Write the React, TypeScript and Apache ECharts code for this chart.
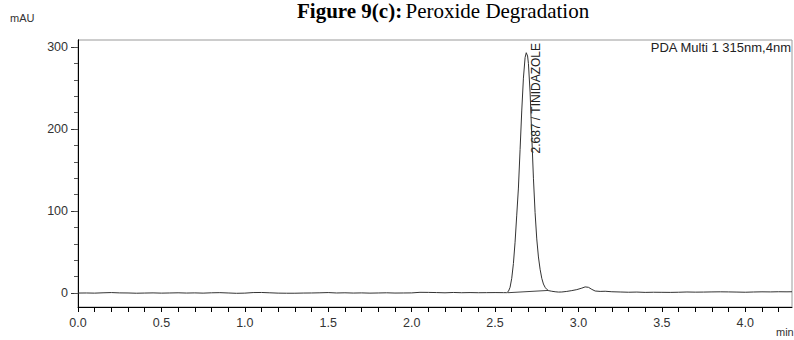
import React, { useEffect, useRef } from "react";
import * as echarts from "echarts";

// Chromatogram trace: [time (min), absorbance (mAU)]
const baselineBefore: [number, number][] = [
  [0.0, 0.0], [0.05, 0.1], [0.1, -0.1], [0.15, 0.3], [0.2, 0.6], [0.25, 0.2], [0.3, 0.1],
  [0.35, -0.2], [0.4, 0.0], [0.45, 0.2], [0.5, -0.1], [0.55, 0.1], [0.6, 0.3], [0.65, 0.0],
  [0.7, 0.2], [0.75, -0.1], [0.8, 0.3], [0.85, 0.5], [0.9, 0.1], [0.95, -0.3], [1.0, -0.1],
  [1.05, 0.6], [1.1, 0.7], [1.15, 0.3], [1.2, -0.1], [1.25, -0.2], [1.3, -0.2], [1.35, 0.0],
  [1.4, 0.1], [1.45, 0.3], [1.5, 0.6], [1.55, 0.1], [1.6, 0.3], [1.65, 0.0], [1.7, 0.2],
  [1.75, -0.1], [1.8, 0.1], [1.85, 0.3], [1.9, 0.0], [1.95, 0.1], [2.0, 0.2], [2.05, 0.9],
  [2.1, 0.8], [2.15, 0.6], [2.2, 0.3], [2.25, 0.7], [2.3, 0.4], [2.35, 0.6], [2.4, 0.4],
  [2.45, 0.5], [2.5, 0.6], [2.55, 0.5],
];
const peakTrace: [number, number][] = [
  [2.57, 0.5], [2.58, 2], [2.59, 7], [2.6, 18], [2.61, 36], [2.62, 62], [2.63, 95],
  [2.64, 128], [2.65, 175], [2.66, 222], [2.67, 262], [2.68, 287], [2.687, 293],
  [2.695, 289], [2.7, 280], [2.71, 245], [2.72, 192], [2.73, 140], [2.74, 98], [2.75, 66],
  [2.76, 44], [2.77, 29], [2.78, 18], [2.79, 11], [2.8, 7], [2.81, 4.5], [2.82, 3],
];
const baselineAfter: [number, number][] = [
  [2.84, 2.2], [2.86, 1.6], [2.88, 1.2], [2.9, 1.3], [2.93, 2.0], [2.96, 3.0], [2.99, 4.2],
  [3.02, 6.0], [3.04, 7.5], [3.06, 7.0], [3.08, 4.5], [3.1, 2.5], [3.13, 2.0], [3.16, 2.2],
  [3.2, 1.6], [3.25, 1.3], [3.3, 1.0], [3.35, 1.2], [3.4, 0.8], [3.45, 1.0], [3.5, 0.9],
  [3.55, 0.8], [3.6, 1.0], [3.65, 1.3], [3.7, 1.1], [3.75, 1.2], [3.8, 1.4], [3.85, 1.5],
  [3.9, 1.4], [3.95, 1.2], [4.0, 1.0], [4.05, 1.3], [4.1, 1.5], [4.15, 1.4], [4.2, 1.6],
  [4.25, 1.5], [4.28, 1.6],
];
// Integration baseline under the peak
const integrationBaseline: [number, number][] = [[2.575, 0.4], [2.82, 3.2]];

const peakTime = 2.687;
const peakName = "TINIDAZOLE";

const xLabelValues = [0, 0.5, 1.0, 1.5, 2.0, 2.5, 3.0, 3.5, 4.0];
const xTickValues = [
  0, 0.1, 0.2, 0.3, 0.4, 0.5, 0.6, 0.7, 0.8, 0.9, 1.0, 1.1, 1.2, 1.3, 1.4, 1.5, 1.6, 1.7,
  1.8, 1.9, 2.0, 2.1, 2.2, 2.3, 2.4, 2.5, 2.6, 2.7, 2.8, 2.9, 3.0, 3.1, 3.2, 3.3, 3.4, 3.5,
  3.6, 3.7, 3.8, 3.9, 4.0, 4.1, 4.2,
];
const yMajorValues = [0, 100, 200, 300];
const yMinorValues = [0, 20, 40, 60, 80, 100, 120, 140, 160, 180, 200, 220, 240, 260, 280, 300];

const xMin = 0;
const xMax = 4.28;
const yMin = -17;
const yMax = 308.5;

const FONT = "'Liberation Sans', Arial, sans-serif";
const SERIF = "'Liberation Serif', 'Times New Roman', serif";

export default function App() {
  const ref = useRef<HTMLDivElement>(null);
  useEffect(() => {
    if (!ref.current) return;
    const chart = echarts.init(ref.current, undefined, { renderer: "svg" });
    const trace = [...baselineBefore, ...peakTrace, ...baselineAfter];
    const yAxisBase = {
      type: "value",
      min: yMin,
      max: yMax,
      splitLine: { show: false },
      axisLine: { show: true, lineStyle: { color: "#000", width: 1 } },
    };
    chart.setOption({
      animation: false,
      grid: {
        left: 78,
        top: 40,
        right: 2,
        bottom: 33,
        show: true,
        borderColor: "#9a9a9a",
        borderWidth: 1,
        backgroundColor: "transparent",
      },
      xAxis: {
        type: "value",
        min: xMin,
        max: xMax,
        splitLine: { show: false },
        axisLine: { show: true, onZero: false, lineStyle: { color: "#000", width: 1 } },
        axisTick: {
          show: true,
          length: 5,
          customValues: xTickValues,
          lineStyle: { color: "#000" },
        },
        axisLabel: {
          customValues: xLabelValues,
          formatter: (v: number) => v.toFixed(1),
          fontFamily: FONT,
          fontSize: 12.5,
          color: "#333",
          margin: 9,
        },
      },
      yAxis: [
        {
          ...yAxisBase,
          axisTick: {
            show: true,
            length: 7,
            customValues: yMajorValues,
            lineStyle: { color: "#333" },
          },
          axisLabel: {
            customValues: yMajorValues,
            fontFamily: FONT,
            fontSize: 12.5,
            color: "#333",
            margin: 10,
          },
        },
        {
          ...yAxisBase,
          position: "left",
          axisTick: {
            show: true,
            length: 4,
            customValues: yMinorValues,
            lineStyle: { color: "#555" },
          },
          axisLabel: { show: false },
        },
      ],
      series: [
        {
          type: "line",
          data: trace,
          showSymbol: false,
          symbol: "none",
          lineStyle: { color: "#333", width: 1 },
          z: 3,
        },
        {
          type: "line",
          data: integrationBaseline,
          showSymbol: false,
          symbol: "none",
          lineStyle: { color: "#444", width: 1 },
          z: 2,
        },
      ],
    });
    const p = chart.convertToPixel({ gridIndex: 0 }, [peakTime, yMax]) as number[];
    chart.setOption({
      graphic: [
        {
          type: "text",
          x: 297,
          y: 0,
          style: {
            text: "{b|Figure 9(c):} {n|Peroxide Degradation}",
            verticalAlign: "top",
            rich: {
              b: { fontFamily: SERIF, fontSize: 21, fontWeight: "bold", fill: "#000" },
              n: { fontFamily: SERIF, fontSize: 21, fill: "#000" },
            },
          },
        },
        {
          type: "text",
          x: 10,
          y: 18,
          style: { text: "mAU", fontFamily: FONT, fontSize: 11, fill: "#333", verticalAlign: "middle" },
        },
        {
          type: "text",
          x: 776,
          y: 332,
          style: { text: "min", fontFamily: FONT, fontSize: 11, fill: "#333", verticalAlign: "middle" },
        },
        {
          type: "text",
          x: 791,
          y: 47,
          style: {
            text: "PDA Multi 1 315nm,4nm",
            fontFamily: FONT,
            fontSize: 13,
            fill: "#222",
            align: "right",
            verticalAlign: "middle",
          },
        },
        {
          type: "text",
          x: p[0] + 10,
          y: p[1] + 3,
          rotation: Math.PI / 2,
          style: {
            text: peakTime.toFixed(3) + " / " + peakName,
            fontFamily: FONT,
            fontSize: 12,
            fill: "#222",
            align: "right",
            verticalAlign: "middle",
          },
        },
      ],
    });
    return () => chart.dispose();
  }, []);
  return (
    <div
      ref={ref}
      style={{ position: "absolute", left: 0, top: 0, width: 794, height: 340 }}
    />
  );
}
